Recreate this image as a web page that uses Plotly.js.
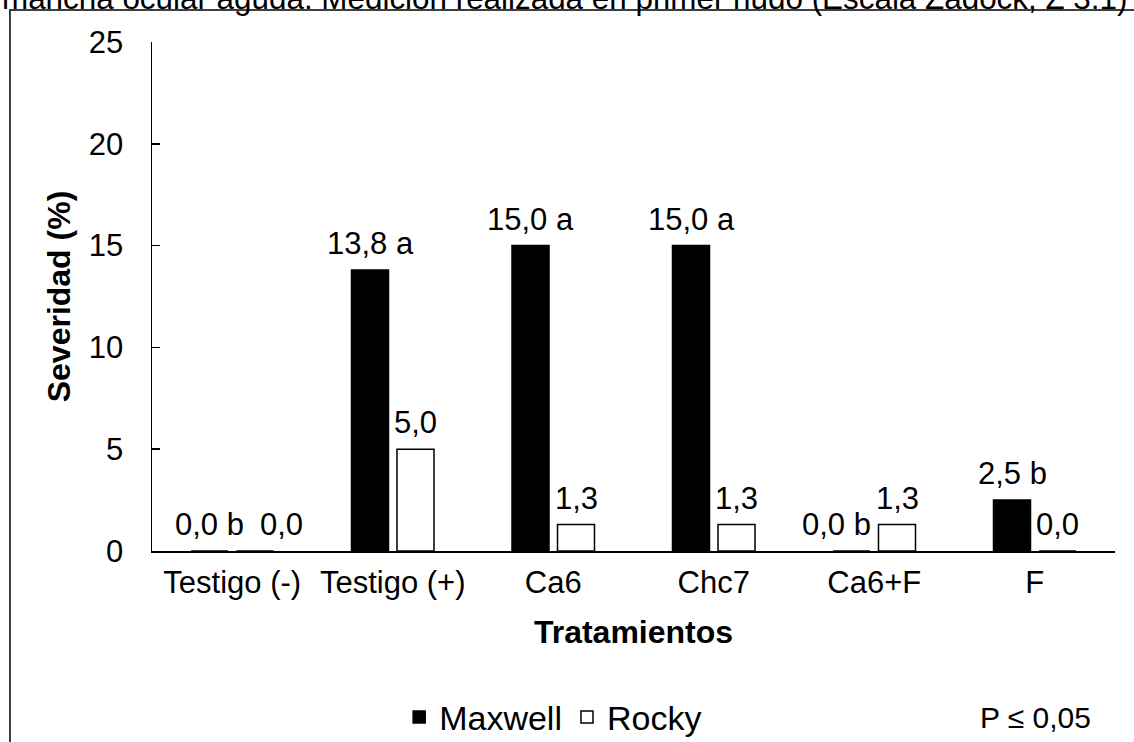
<!DOCTYPE html>
<html>
<head>
<meta charset="utf-8">
<script src="https://cdn.plot.ly/plotly-3.0.1.min.js"></script>
<style>html,body{margin:0;padding:0;background:#fff;}</style>
</head>
<body>
<div id="chart" style="width:1134px;height:742px;"></div>
<script>
const categories = ["Testigo (-)", "Testigo (+)", "Ca6", "Chc7", "Ca6+F", "F"];
const maxwell = [0.0, 13.8, 15.0, 15.0, 0.0, 2.5];
const rocky = [0.0, 5.0, 1.3, 1.3, 1.3, 0.0];
const maxwellLetters = ["b", "a", "a", "a", "b", "b"];
const seriesNames = ["Maxwell", "Rocky"];
const titleText = "mancha ocular aguda. Medición realizada en primer nudo (Escala Zadock, Z 3.1)";
const yTitle = "Severidad (%)";
const xTitle = "Tratamientos";
const pNote = "P ≤ 0,05";

const FONT = "Liberation Sans, Arial, sans-serif";
const FS = 31;
const fmt = v => v.toFixed(1).replace(".", ",");

const traces = [
  {type: "bar", name: seriesNames[0], x: categories, y: maxwell,
   marker: {color: "#000000", line: {color: "#000000", width: 1.5}}, hoverinfo: "none"},
  {type: "bar", name: seriesNames[1], x: categories, y: rocky,
   marker: {color: "#ffffff", line: {color: "#000000", width: 1.5}}, hoverinfo: "none"}
];

// label nudges as in the original (manual placements of two zero labels)
const maxwellNudge = c => (c === "Ca6+F" ? -15 : 0);
const rockyNudge = c => (c === "Testigo (-)" ? 26 : 0);

const annotations = [];
categories.forEach((c, i) => {
  annotations.push({x: c, y: maxwell[i], xref: "x", yref: "y", text: fmt(maxwell[i]) + " " + maxwellLetters[i],
    showarrow: false, xshift: -22.75 + maxwellNudge(c), yshift: 7, yanchor: "bottom", font: {family: FONT, size: FS, color: "#000"}});
  annotations.push({x: c, y: rocky[i], xref: "x", yref: "y", text: fmt(rocky[i]),
    showarrow: false, xshift: 22.75 + rockyNudge(c), yshift: 7, yanchor: "bottom", font: {family: FONT, size: FS, color: "#000"}});
});
annotations.push({xref: "paper", yref: "paper", x: -0.158, y: 1.047, xanchor: "left", yanchor: "bottom",
  text: titleText, showarrow: false, font: {family: FONT, size: 31.4, color: "#000"}});
annotations.push({xref: "paper", yref: "paper", x: 0.8577, y: -0.328, xanchor: "left", yanchor: "middle",
  text: pNote, showarrow: false, font: {family: FONT, size: 30, color: "#000"}});

const layout = {
  width: 1134, height: 742, autosize: false,
  margin: {l: 152, r: 19, t: 42, b: 191},
  paper_bgcolor: "#ffffff", plot_bgcolor: "#ffffff",
  font: {family: FONT, size: FS, color: "#000"},
  barmode: "group", bargap: 0.433, bargroupgap: 0.187,
  xaxis: {type: "category", showline: true, linecolor: "#000", linewidth: 1.5, ticks: "",
    showgrid: false, zeroline: false, automargin: false, tickfont: {family: FONT, size: FS, color: "#000"},
    ticklabelstandoff: 3,
    title: {text: "<b>" + xTitle + "</b>", font: {family: FONT, size: 32, color: "#000"}, standoff: 22}},
  yaxis: {range: [0, 25], dtick: 5, tick0: 0, showline: true, linecolor: "#000", linewidth: 1.5,
    ticks: "inside", ticklen: 8, tickcolor: "#000", tickwidth: 1.5, showgrid: false, zeroline: false,
    automargin: false, tickfont: {family: FONT, size: FS, color: "#000"}, ticklabelstandoff: 21,
    title: {text: "<b>" + yTitle + "</b>", font: {family: FONT, size: 32, color: "#000"}, standoff: 8}},
  showlegend: true,
  legend: {orientation: "h", xref: "container", yref: "container", x: 0.352, y: 0.033,
    xanchor: "left", yanchor: "middle",
    font: {family: FONT, size: 34, color: "#000"}, itemwidth: 30, bgcolor: "rgba(0,0,0,0)"},
  shapes: [{type: "rect", xref: "paper", yref: "paper", x0: -0.1475, x1: 1.2, y0: -0.5, y1: 1.0629,
    line: {color: "#000", width: 1.5}, fillcolor: "rgba(0,0,0,0)", layer: "below"}],
  annotations: annotations
};

Plotly.newPlot("chart", traces, layout, {displayModeBar: false, staticPlot: true});
</script>
</body>
</html>
